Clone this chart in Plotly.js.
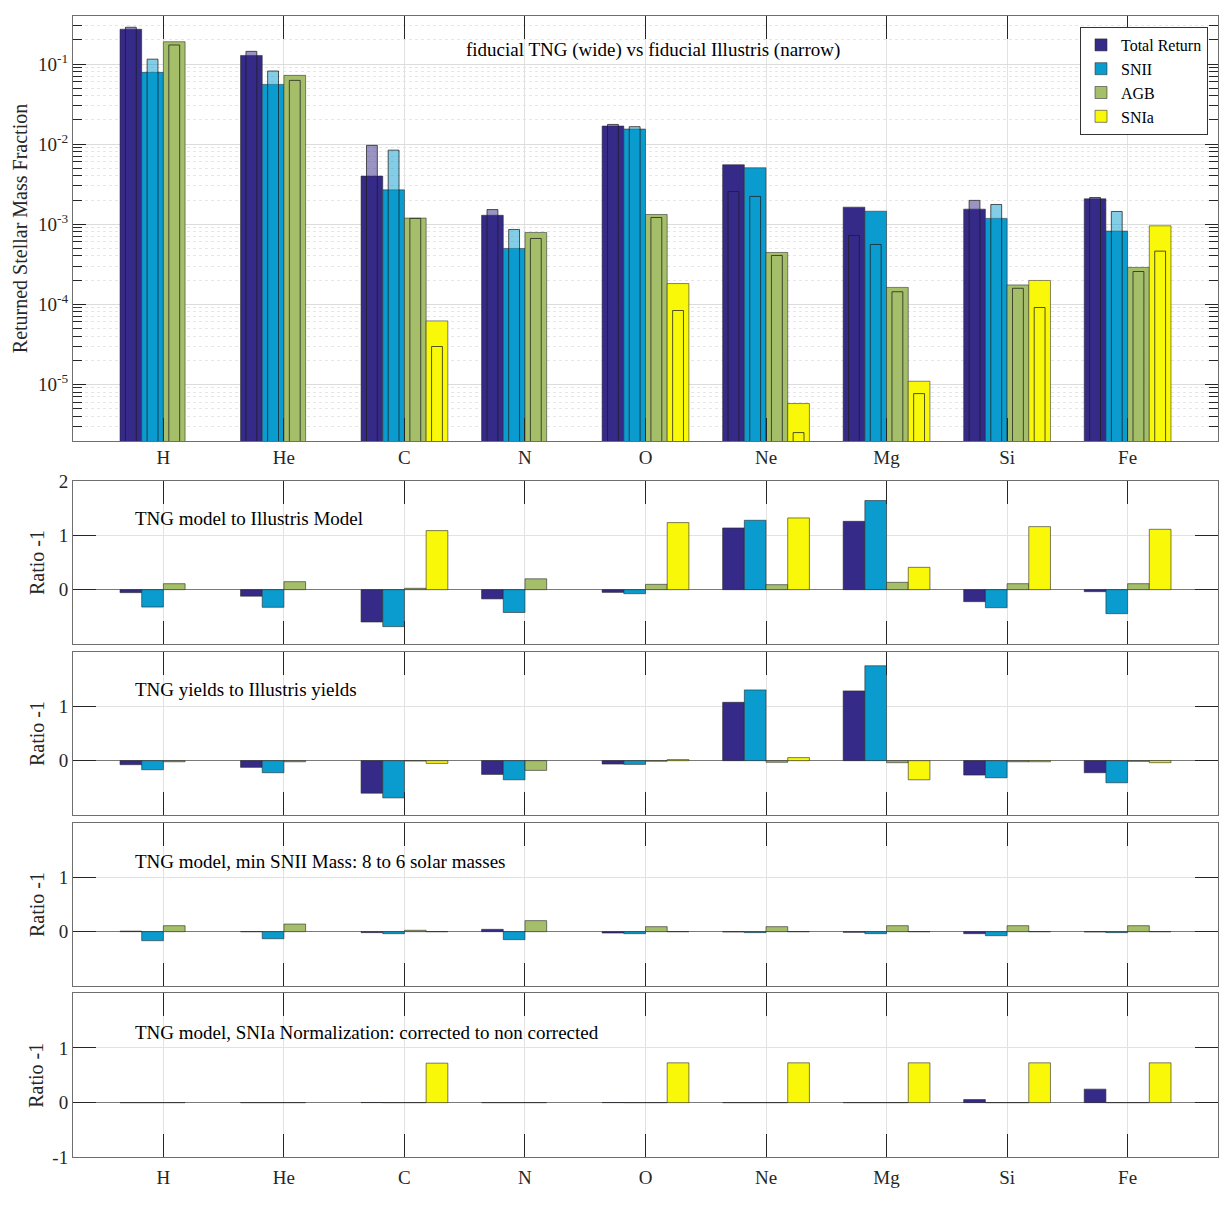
<!DOCTYPE html>
<html>
<head>
<meta charset="utf-8">
<script src="https://cdn.plot.ly/plotly-3.0.1.min.js"></script>
<style>
  html, body { margin: 0; padding: 0; background: #fff; }
  #chart { width: 1224px; height: 1207px; }
</style>
</head>
<body>
<div id="chart"></div>
<script>
// Elements and yield channels
const elements = ['H', 'He', 'C', 'N', 'O', 'Ne', 'Mg', 'Si', 'Fe'];
const sources = ['Total Return', 'SNII', 'AGB', 'SNIa'];

// Returned stellar mass fraction, fiducial TNG (wide bars)
const tngTotal = [0.272, 0.128, 0.00398, 0.00129, 0.0168, 0.00552, 0.00163, 0.00154, 0.00207];
const tngSNII  = [0.0787, 0.0557, 0.00268, 0.000497, 0.0154, 0.00506, 0.00145, 0.00118, 0.000818];
const tngAGB   = [0.190, 0.0722, 0.00119, 0.000787, 0.00132, 0.000443, 0.000162, 0.000174, 0.000288];
const tngSNIa  = [null, null, 6.18e-5, null, 0.000181, 5.74e-6, 1.09e-5, 0.000198, 0.000953];

// Returned stellar mass fraction, fiducial Illustris (narrow bars)
const illTotal = [0.288, 0.144, 0.00964, 0.00152, 0.0176, 0.00256, 0.000722, 0.00198, 0.00215];
const illSNII  = [0.115, 0.0818, 0.0084, 0.000858, 0.0165, 0.00222, 0.000557, 0.00176, 0.00144];
const illAGB   = [0.173, 0.0625, 0.00118, 0.000662, 0.00121, 0.000406, 0.000143, 0.000158, 0.000256];
const illSNIa  = [null, null, 2.96e-5, null, 8.34e-5, 2.49e-6, 7.64e-6, 9.09e-5, 0.00046];

// Ratio - 1: TNG model to Illustris model
const modelTotal = [-0.055, -0.12, -0.595, -0.17, -0.05, 1.136, 1.258, -0.221, -0.037];
const modelSNII  = [-0.32, -0.325, -0.68, -0.42, -0.074, 1.277, 1.64, -0.332, -0.442];
const modelAGB   = [0.11, 0.147, 0.025, 0.20, 0.098, 0.092, 0.135, 0.11, 0.11];
const modelSNIa  = [null, null, 1.087, null, 1.234, 1.32, 0.411, 1.16, 1.111];

// Ratio - 1: TNG yields to Illustris yields
const yieldTotal = [-0.074, -0.123, -0.599, -0.253, -0.062, 1.074, 1.284, -0.265, -0.222];
const yieldSNII  = [-0.167, -0.222, -0.685, -0.352, -0.068, 1.302, 1.747, -0.315, -0.407];
const yieldAGB   = [-0.02, -0.02, -0.005, -0.179, -0.01, -0.03, -0.037, -0.02, -0.012];
const yieldSNIa  = [null, null, -0.05, null, 0.02, 0.056, -0.352, -0.02, -0.037];

// Ratio - 1: minimum SNII mass 8 -> 6 solar masses
const minMassTotal = [0.01, 0.0, -0.018, 0.043, -0.025, -0.005, -0.012, -0.037, -0.005];
const minMassSNII  = [-0.166, -0.13, -0.037, -0.147, -0.037, -0.018, -0.037, -0.074, -0.018];
const minMassAGB   = [0.11, 0.14, 0.025, 0.203, 0.092, 0.092, 0.11, 0.11, 0.11];
const minMassSNIa  = [null, null, 0, null, 0, 0, 0, 0, 0];

// Ratio - 1: SNIa normalization corrected to non corrected
const normTotal = [0, 0, 0.003, 0, 0.002, 0, 0, 0.056, 0.247];
const normSNII  = [0, 0, 0, 0, 0, 0, 0, 0, 0];
const normAGB   = [0, 0, 0, 0, 0, 0, 0, 0, 0];
const normSNIa  = [null, null, 0.722, null, 0.728, 0.728, 0.728, 0.728, 0.728];

const panelTitles = [
  'fiducial TNG (wide) vs fiducial Illustris (narrow)',
  'TNG model to Illustris Model',
  'TNG yields to Illustris yields',
  'TNG model, min SNII Mass: 8 to 6 solar masses',
  'TNG model, SNIa Normalization: corrected to non corrected'
];

// Y tick values of the ratio panels
const ratioTicks = [[0, 1, 2], [0, 1], [0, 1], [-1, 0, 1]];

// Styling
const colors = ['#352a87', '#0a9ccf', '#a5be6a', '#f8f808'];
const fadedColors = ['rgba(53,42,135,0.5)', 'rgba(10,156,207,0.5)', 'rgba(165,190,106,0.5)', 'rgba(248,248,8,0.5)'];
const FONT = '"Liberation Serif", "Times New Roman", Times, serif';
const TXT = '#262626';
const W = 1224, H = 1207;
const wide = 0.18, narrow = 0.09, groupLeft = -0.36;

// Panel boxes in pixels (top, bottom)
const boxes = [[16, 441], [481, 644], [652, 815], [823, 986], [993.3, 1157.3]];
const xDom = [73 / W, 1218 / W];

const traces = [];
const tng = [tngTotal, tngSNII, tngAGB, tngSNIa];
const ill = [illTotal, illSNII, illAGB, illSNIa];

// Top panel: wide TNG bars, then narrow semi-transparent Illustris bars on top
sources.forEach((name, s) => {
  traces.push({
    type: 'bar', name: name, x: elements, y: tng[s], xaxis: 'x', yaxis: 'y',
    offset: groupLeft + wide * s, width: wide,
    marker: { color: colors[s], line: { color: 'rgba(40,40,40,0.55)', width: 1 } },
    legendgroup: name, hoverinfo: 'x+y+name'
  });
});
sources.forEach((name, s) => {
  traces.push({
    type: 'bar', name: name + ' (Illustris)', x: elements, y: ill[s], xaxis: 'x', yaxis: 'y',
    offset: groupLeft + wide * s + (wide - narrow) / 2, width: narrow,
    marker: { color: fadedColors[s], line: { color: 'rgba(30,30,30,0.75)', width: 1 } },
    showlegend: false, hoverinfo: 'x+y+name'
  });
});

// Ratio panels
const ratios = [
  [modelTotal, modelSNII, modelAGB, modelSNIa],
  [yieldTotal, yieldSNII, yieldAGB, yieldSNIa],
  [minMassTotal, minMassSNII, minMassAGB, minMassSNIa],
  [normTotal, normSNII, normAGB, normSNIa]
];
ratios.forEach((set, p) => {
  const k = p + 2;
  set.forEach((vals, s) => {
    traces.push({
      type: 'bar', name: sources[s], x: elements, y: vals,
      xaxis: 'x' + k, yaxis: 'y' + k,
      offset: groupLeft + wide * s, width: wide,
      marker: { color: colors[s], line: { color: 'rgba(40,40,40,0.6)', width: 1 } },
      showlegend: false, hoverinfo: 'x+y+name'
    });
  });
});

function yDomain(i) {
  return [1 - boxes[i][1] / H, 1 - boxes[i][0] / H];
}

function xAxis(i, showLabels, standoff) {
  return {
    type: 'category', domain: xDom, range: [-0.75, 8.75],
    anchor: i === 0 ? 'y' : 'y' + (i + 1),
    showgrid: true, gridcolor: '#e2e2e2', gridwidth: 1,
    ticks: 'inside', ticklen: 23, tickwidth: 1, tickcolor: TXT,
    showline: true, linecolor: '#6e6e6e', linewidth: 1, mirror: 'allticks',
    showticklabels: showLabels, ticklabelstandoff: standoff,
    tickfont: { family: FONT, size: 19, color: TXT },
    zeroline: false, fixedrange: true
  };
}

function ratioAxis(i, standoff) {
  const vals = ratioTicks[i - 1];
  return {
    domain: yDomain(i), range: [-1, 2], anchor: 'x' + (i + 1),
    tickmode: 'array', tickvals: vals, ticktext: vals.map(String),
    ticks: 'inside', ticklen: 23, tickwidth: 1, tickcolor: TXT,
    showline: true, linecolor: '#6e6e6e', linewidth: 1, mirror: 'allticks',
    showgrid: true, gridcolor: '#e2e2e2',
    zeroline: true, zerolinecolor: '#7a7a7a', zerolinewidth: 1,
    tickfont: { family: FONT, size: 19, color: TXT },
    title: { text: 'Ratio -1', font: { family: FONT, size: 20, color: TXT }, standoff: standoff },
    fixedrange: true
  };
}

const decades = [1e-5, 1e-4, 1e-3, 1e-2, 1e-1];
const decadeLabels = ['10<sup>-5</sup>', '10<sup>-4</sup>', '10<sup>-3</sup>', '10<sup>-2</sup>', '10<sup>-1</sup>'];

const layout = {
  width: W, height: H,
  margin: { l: 0, r: 0, t: 0, b: 0 },
  paper_bgcolor: '#fff', plot_bgcolor: '#fff',
  barmode: 'overlay',
  font: { family: FONT, color: TXT },
  showlegend: true,
  legend: {
    x: 1208 / W, xanchor: 'right', y: 1 - 27 / H, yanchor: 'top',
    bgcolor: '#fff', bordercolor: '#333', borderwidth: 1,
    font: { family: FONT, size: 16, color: '#000' },
    tracegroupgap: 0, itemwidth: 30
  },
  xaxis: xAxis(0, true, -1),
  yaxis: {
    type: 'log', domain: yDomain(0), range: [-5.709, -0.4], anchor: 'x',
    tickmode: 'array', tickvals: decades, ticktext: decadeLabels,
    ticks: 'inside', ticklen: 13, tickwidth: 1, tickcolor: TXT,
    minor: { dtick: 'D1', ticks: 'inside', ticklen: 9, tickcolor: TXT,
             showgrid: true, gridcolor: '#e6e6e6', griddash: 'dot', gridwidth: 1 },
    showline: true, linecolor: '#6e6e6e', linewidth: 1, mirror: 'allticks',
    showgrid: true, gridcolor: '#dcdcdc',
    zeroline: false,
    tickfont: { family: FONT, size: 19, color: TXT },
    title: { text: 'Returned Stellar Mass Fraction', font: { family: FONT, size: 20, color: TXT }, standoff: 5 },
    fixedrange: true
  },
  xaxis2: xAxis(1, false, 0),
  yaxis2: ratioAxis(1, 8),
  xaxis3: xAxis(2, false, 0),
  yaxis3: ratioAxis(2, 8),
  xaxis4: xAxis(3, false, 0),
  yaxis4: ratioAxis(3, 8),
  xaxis5: xAxis(4, true, 3),
  yaxis5: ratioAxis(4, 3),
  annotations: [
    { text: panelTitles[0], xref: 'paper', yref: 'paper', x: 653 / W, y: 1 - 50 / H,
      xanchor: 'center', yanchor: 'middle', showarrow: false, font: { family: FONT, size: 19, color: '#000' } }
  ].concat([1, 2, 3, 4].map((p) => ({
    text: panelTitles[p], xref: 'paper', yref: 'paper', x: 133 / W,
    y: 1 - [0, 519, 690, 861, 1032][p] / H,
    xanchor: 'left', yanchor: 'middle', showarrow: false,
    font: { family: FONT, size: 19, color: '#000' }
  })))
};

Plotly.newPlot('chart', traces, layout, { staticPlot: true, displayModeBar: false });
</script>
</body>
</html>
